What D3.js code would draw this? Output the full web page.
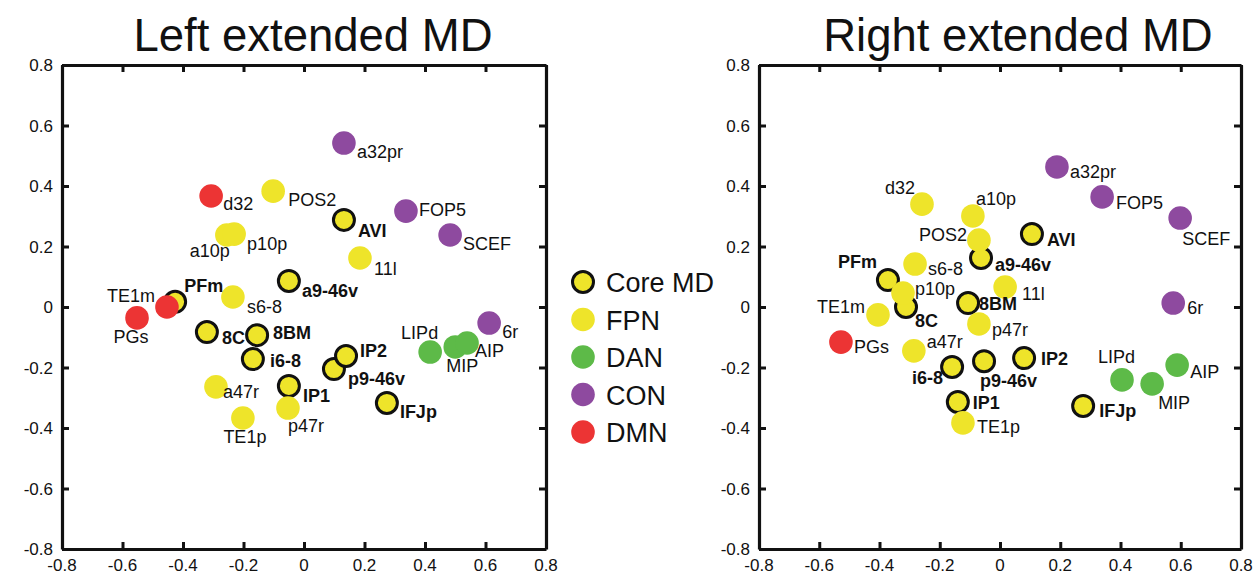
<!DOCTYPE html>
<html>
<head>
<meta charset="utf-8">
<script src="https://cdn.jsdelivr.net/npm/d3@7"></script>
<style>
  body { margin: 0; background: #fff; }
  text { font-family: "Liberation Sans", Arial, sans-serif; }
</style>
</head>
<body>
<div id="chart"></div>
<script>
const width = 1255;
const height = 577;

// Data
const regions = ["a32pr", "d32", "POS2", "a10p", "p10p", "AVI", "FOP5", "SCEF", "11l", "a9-46v",
  "s6-8", "PFm", "TE1m", "PGs", "8C", "8BM", "i6-8", "a47r", "IP1", "p47r",
  "TE1p", "p9-46v", "IP2", "IFJp", "LIPd", "MIP", "AIP", "6r"];

const leftNetwork = ["CON", "DMN", "FPN", "FPN", "FPN", "Core MD", "CON", "CON", "FPN", "Core MD",
  "FPN", "Core MD", "DMN", "DMN", "Core MD", "Core MD", "Core MD", "FPN", "Core MD", "FPN",
  "FPN", "Core MD", "Core MD", "Core MD", "DAN", "DAN", "DAN", "CON"];
const leftX = [0.132, -0.307, -0.102, -0.255, -0.231, 0.132, 0.337, 0.483, 0.185, -0.05,
  -0.235, -0.426, -0.453, -0.552, -0.321, -0.155, -0.169, -0.291, -0.05, -0.053,
  -0.202, 0.099, 0.139, 0.274, 0.417, 0.5, 0.539, 0.612];
const leftY = [0.542, 0.367, 0.383, 0.238, 0.241, 0.288, 0.317, 0.238, 0.162, 0.086,
  0.033, 0.017, 0.0, -0.036, -0.083, -0.093, -0.172, -0.264, -0.261, -0.334,
  -0.367, -0.205, -0.162, -0.317, -0.149, -0.132, -0.119, -0.053];

const rightNetwork = ["CON", "FPN", "FPN", "FPN", "FPN", "Core MD", "CON", "CON", "FPN", "Core MD",
  "FPN", "Core MD", "FPN", "DMN", "Core MD", "Core MD", "Core MD", "FPN", "Core MD", "FPN",
  "FPN", "Core MD", "Core MD", "Core MD", "DAN", "DAN", "DAN", "CON"];
const rightX = [0.189, -0.259, -0.07, -0.09, -0.322, 0.106, 0.339, 0.598, 0.017, -0.063,
  -0.282, -0.372, -0.405, -0.528, -0.312, -0.106, -0.159, -0.286, -0.14, -0.07,
  -0.123, -0.053, 0.08, 0.276, 0.405, 0.505, 0.588, 0.575];
const rightY = [0.463, 0.340, 0.221, 0.301, 0.046, 0.241, 0.364, 0.294, 0.066, 0.162,
  0.142, 0.089, -0.026, -0.116, 0.0, 0.013, -0.198, -0.145, -0.314, -0.056,
  -0.383, -0.179, -0.169, -0.327, -0.241, -0.254, -0.192, 0.013];

const tickValues = [-0.8, -0.6, -0.4, -0.2, 0, 0.2, 0.4, 0.6, 0.8];
const legendItems = ["Core MD", "FPN", "DAN", "CON", "DMN"];

const colors = {
  "Core MD": "#eee42a",
  "FPN": "#eee42a",
  "DAN": "#5dba48",
  "CON": "#8e4a9f",
  "DMN": "#ec3434"
};

// label placement: [dx, dy, anchor]
const leftLabelPos = {
  "a32pr": [13, 15], "d32": [12, 14], "POS2": [15, 15], "a10p": [3, 22, "end"], "p10p": [13, 16],
  "AVI": [14, 17], "FOP5": [13, 5], "SCEF": [13, 15], "11l": [14, 17], "a9-46v": [13, 16],
  "s6-8": [14, 16], "PFm": [9, -10], "TE1m": [-12, -5, "end"], "PGs": [-6, 25, "middle"],
  "8C": [15, 12], "8BM": [16, 4], "i6-8": [17, 8], "a47r": [7, 11], "IP1": [14, 16],
  "p47r": [0, 24], "TE1p": [2, 25, "middle"], "IP2": [14, 1], "p9-46v": [14, 16],
  "IFJp": [13, 15], "LIPd": [8, -13, "end"], "MIP": [-9, 25], "AIP": [8, 14], "6r": [13, 15]
};
const rightLabelPos = {
  "d32": [-7, -10, "end"], "a10p": [3, -11], "POS2": [-12, 1, "end"], "a9-46v": [14, 13],
  "PFm": [-11, -12, "end"], "s6-8": [13, 11], "p10p": [12, 2], "8C": [9, 20], "8BM": [11, 7],
  "TE1m": [-13, -2, "end"], "p47r": [13, 12], "PGs": [13, 11], "a47r": [13, -3],
  "i6-8": [-9, 17, "end"], "p9-46v": [-4, 26], "IP1": [15, 7], "TE1p": [14, 10],
  "AVI": [15, 12], "a32pr": [13, 11], "FOP5": [14, 12], "SCEF": [2, 27], "11l": [17, 13],
  "6r": [14, 11], "IP2": [17, 7], "LIPd": [13, -17, "end"], "MIP": [6, 25], "AIP": [13, 13],
  "IFJp": [16, 11]
};

const svg = d3.select("#chart")
  .append("svg")
  .attr("width", width)
  .attr("height", height);

svg.append("rect").attr("width", width).attr("height", height).attr("fill", "#fff");

const fmt = d => d === 0 ? "0" : String(+d.toFixed(1));

function drawPanel(title, left, right, titleX, network, xs, ys, labelPos) {
  const top = 65, bottom = 549;
  const x = d3.scaleLinear().domain([-0.8, 0.8]).range([left, right]);
  const y = d3.scaleLinear().domain([-0.8, 0.8]).range([bottom, top]);

  const g = svg.append("g");

  // frame with inward ticks on all four sides
  const axes = [
    [d3.axisBottom(x), `translate(0,${bottom})`],
    [d3.axisTop(x), `translate(0,${top})`],
    [d3.axisLeft(y), `translate(${left},0)`],
    [d3.axisRight(y), `translate(${right},0)`]
  ];
  axes.forEach(([ax, tr]) => {
    ax.tickValues(tickValues).tickSize(-7).tickSizeOuter(0).tickFormat("");
    const a = g.append("g").attr("transform", tr).call(ax);
    a.select(".domain").attr("stroke-width", 3.2).attr("stroke", "#111");
    a.selectAll(".tick line").attr("stroke-width", 3).attr("stroke", "#111");
  });

  // tick labels
  g.selectAll("text.xt")
    .data(tickValues)
    .join("text")
    .attr("class", "xt")
    .attr("x", d => x(d))
    .attr("y", bottom + 22)
    .attr("text-anchor", "middle")
    .attr("font-size", 17)
    .attr("fill", "#111")
    .text(fmt);

  g.selectAll("text.yt")
    .data(tickValues)
    .join("text")
    .attr("class", "yt")
    .attr("x", left - 9)
    .attr("y", d => y(d) + 6)
    .attr("text-anchor", "end")
    .attr("font-size", 17)
    .attr("fill", "#111")
    .text(fmt);

  g.append("text")
    .attr("x", titleX)
    .attr("y", 51)
    .attr("text-anchor", "middle")
    .attr("font-size", 45.5)
    .attr("fill", "#111")
    .text(title);

  const pts = regions.map((r, i) => ({ name: r, net: network[i], x: xs[i], y: ys[i] }));
  // core MD regions go underneath the others
  const ordered = pts.filter(p => p.net === "Core MD").concat(pts.filter(p => p.net !== "Core MD"));

  g.selectAll("circle.pt")
    .data(ordered)
    .join("circle")
    .attr("class", "pt")
    .attr("cx", d => x(d.x))
    .attr("cy", d => y(d.y))
    .attr("r", d => d.net === "Core MD" ? 10.5 : 11.8)
    .attr("fill", d => colors[d.net])
    .attr("stroke", d => d.net === "Core MD" ? "#111" : "none")
    .attr("stroke-width", 3);

  g.selectAll("text.lbl")
    .data(pts)
    .join("text")
    .attr("class", "lbl")
    .attr("x", d => x(d.x) + labelPos[d.name][0])
    .attr("y", d => y(d.y) + labelPos[d.name][1])
    .attr("text-anchor", d => labelPos[d.name][2] || "start")
    .attr("font-size", 18)
    .attr("font-weight", d => d.net === "Core MD" ? "bold" : "normal")
    .attr("fill", "#111")
    .text(d => d.name);
}

drawPanel("Left extended MD", 62, 546, 313, leftNetwork, leftX, leftY, leftLabelPos);
drawPanel("Right extended MD", 759, 1241, 1018, rightNetwork, rightX, rightY, rightLabelPos);

// Legend
const legend = svg.append("g");
legendItems.forEach((item, i) => {
  const ly = 282 + i * 37.5;
  legend.append("circle")
    .attr("cx", 583)
    .attr("cy", ly)
    .attr("r", item === "Core MD" ? 10.5 : 11.8)
    .attr("fill", colors[item])
    .attr("stroke", item === "Core MD" ? "#111" : "none")
    .attr("stroke-width", 3);
  legend.append("text")
    .attr("x", 606)
    .attr("y", ly + 10)
    .attr("font-size", 27)
    .attr("fill", "#111")
    .text(item);
});
</script>
</body>
</html>
